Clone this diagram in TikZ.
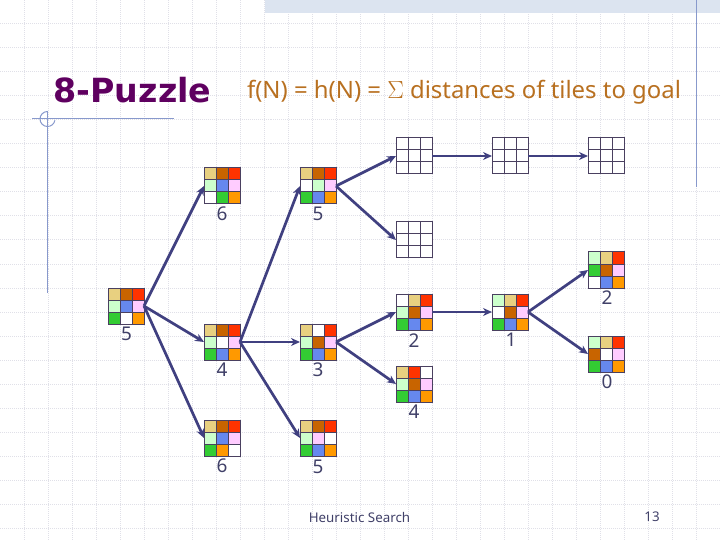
\documentclass[tikz,border=0pt]{standalone}
\usepackage{fontspec}
\setmainfont{Noto Sans}
\newfontfamily\titlefont{DejaVu Sans}
\usetikzlibrary{arrows.meta}

\definecolor{tiletan}{HTML}{E8D080}
\definecolor{tilebrown}{HTML}{C86400}
\definecolor{tilered}{HTML}{FF3300}
\definecolor{tilemint}{HTML}{CCFFCC}
\definecolor{tileblue}{HTML}{6688EE}
\definecolor{tilepink}{HTML}{FFCCFF}
\definecolor{tilegreen}{HTML}{33CC33}
\definecolor{tileorange}{HTML}{FF9900}
\definecolor{tilenone}{HTML}{FFFFFF}
\definecolor{linkcolor}{HTML}{404080}
\definecolor{framecolor}{HTML}{4A4060}
\definecolor{numcolor}{HTML}{404068}
\definecolor{formulacolor}{HTML}{B87020}
\definecolor{titlecolor}{HTML}{5F0060}
\definecolor{gridcolor}{HTML}{E0E0E8}
\definecolor{rulecolor}{HTML}{8899CC}
\definecolor{bandcolor}{HTML}{DCE4F0}

\tikzset{
  boardbox/.style={minimum size=36bp,inner sep=0pt,outer sep=0pt},
  cell/.style={draw=framecolor,line width=1bp},
  link/.style={draw=linkcolor,line width=2.7bp,-{Stealth[length=9bp,width=8bp]}},
  num/.style={text=numcolor,font=\fontsize{19}{19}\selectfont,inner sep=0pt},
  gridline/.style={draw=gridcolor,line width=1bp,densely dotted},
  deco/.style={draw=rulecolor,line width=1bp}
}

% board: name, left, top, nine tiles
\newcommand{\board}[4]{
  \node[boardbox] (#1) at (#2+18,#3+18) {};
  \foreach \tile [count=\i from 0] in {#4} {
    \pgfmathtruncatemacro{\col}{mod(\i,3)}
    \pgfmathtruncatemacro{\row}{div(\i,3)}
    \draw[cell,fill=tile\tile] (#2+12*\col,#3+12*\row) rectangle ++(12,12);
  }
}

\begin{document}
\begin{tikzpicture}[x=1bp,y=-1bp]
    \useasboundingbox (0,0) rectangle (720,540);

    % Background
    \foreach \gx in {24,48,...,696} \draw[gridline] (\gx,0) -- (\gx,540);
    \foreach \gy in {24,48,...,528} \draw[gridline] (0,\gy) -- (720,\gy);
    \fill[bandcolor] (265,0) rectangle (720,13);
    \draw[deco] (696.5,0) -- (696.5,187);
    \draw[deco] (32,119) -- (174,119);
    \draw[deco] (47.5,111) -- (47.5,293);
    \draw[deco] (47.5,111.5) arc[start angle=90,end angle=350,radius=7.5bp];

    % Titles
    \node[text=titlecolor,font=\titlefont\bfseries\fontsize{33.4}{33.4}\selectfont,inner sep=0pt] (title) at (132.5,90) {8-Puzzle};
    \node[text=formulacolor,font=\fontsize{24}{24}\selectfont,inner sep=0pt] (formula) at (464,92) {f(N) = h(N) = $\Sigma$ distances of tiles to goal};

    % Boards
    \board{root}{108}{288}{tan,brown,red,mint,blue,pink,green,none,orange}
    \board{upa}{204}{168}{tan,brown,red,mint,blue,pink,none,green,orange}
    \board{upb}{300}{168}{tan,brown,red,none,mint,pink,green,blue,orange}
    \board{mida}{204}{324}{tan,brown,red,mint,none,pink,green,blue,orange}
    \board{midb}{300}{324}{tan,none,red,mint,brown,pink,green,blue,orange}
    \board{lowa}{204}{420}{tan,brown,red,mint,blue,pink,green,orange,none}
    \board{lowb}{300}{420}{tan,brown,red,mint,pink,none,green,blue,orange}
    \board{blanka}{396}{138}{none,none,none,none,none,none,none,none,none}
    \board{blankb}{492}{138}{none,none,none,none,none,none,none,none,none}
    \board{blankc}{588}{138}{none,none,none,none,none,none,none,none,none}
    \board{blankd}{396}{222}{none,none,none,none,none,none,none,none,none}
    \board{deepa}{396}{294}{none,tan,red,mint,brown,pink,green,blue,orange}
    \board{deepb}{396}{366}{tan,red,none,mint,brown,pink,green,blue,orange}
    \board{next}{492}{294}{mint,tan,red,none,brown,pink,green,blue,orange}
    \board{lasta}{588}{252}{mint,tan,red,green,brown,pink,none,blue,orange}
    \board{goal}{588}{336}{mint,tan,red,brown,none,pink,green,blue,orange}

    % Distances
    \node[num] (nroot) at (126.5,334) {5};
    \node[num] (nupa) at (222,214) {6};
    \node[num] (nupb) at (318,214) {5};
    \node[num] (nmida) at (222,370) {4};
    \node[num] (nmidb) at (318,370) {3};
    \node[num] (nlowa) at (222,466) {6};
    \node[num] (nlowb) at (318,467) {5};
    \node[num] (ndeepa) at (414,341) {2};
    \node[num] (ndeepb) at (414,412) {4};
    \node[num] (nnext) at (511,340) {1};
    \node[num] (nlasta) at (607,298) {2};
    \node[num] (ngoal) at (607,382) {0};

    % Moves
    \draw[link] (root.east) -- (upa.west);
    \draw[link] (root.east) -- (mida.west);
    \draw[link] (root.east) -- (lowa.west);
    \draw[link] (mida.east) -- (upb.west);
    \draw[link] (mida.east) -- (midb.west);
    \draw[link] (mida.east) -- (lowb.west);
    \draw[link] (upb.east) -- (blanka.west);
    \draw[link] (upb.east) -- (blankd.west);
    \draw[link] (blanka.east) -- (blankb.west);
    \draw[link] (blankb.east) -- (blankc.west);
    \draw[link] (midb.east) -- (deepa.west);
    \draw[link] (midb.east) -- (deepb.west);
    \draw[link] (deepa.east) -- (next.west);
    \draw[link] (next.east) -- (lasta.west);
    \draw[link] (next.east) -- (goal.west);

    % Footer
    \node[text=numcolor,font=\fontsize{13.4}{13.4}\selectfont,inner sep=0pt] (footer) at (359.5,517) {Heuristic Search};
    \node[text=numcolor,font=\fontsize{13.4}{13.4}\selectfont,inner sep=0pt] (page) at (652,517) {13};
\end{tikzpicture}
\end{document}
